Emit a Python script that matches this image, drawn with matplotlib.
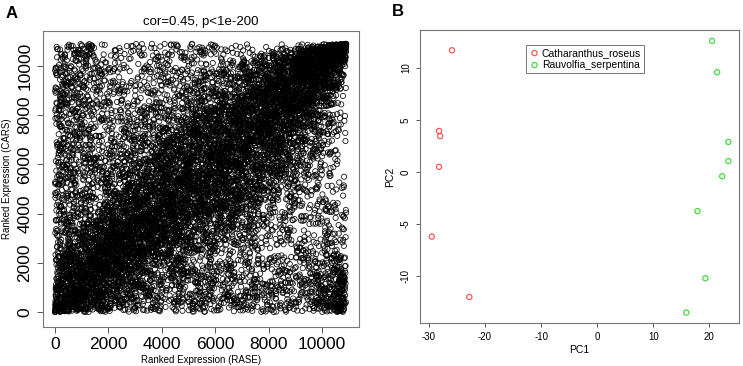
import numpy as np
import matplotlib.pyplot as plt

plt.rcParams['font.family'] = ['Liberation Sans', 'DejaVu Sans']
plt.rcParams['axes.unicode_minus'] = False

# Panel A: ranked expression of ~10900 genes in two samples (cor = 0.45).
# Individual points cannot be read off the picture, so the cloud is
# rebuilt from its summary (gene count, correlation) with a fixed seed.
n_genes = 10900
rank_cor = 0.45
title_a = "cor=0.45, p<1e-200"

# Panel B: PCA scores
cr_pc1 = [-25.9, -28.2, -28.0, -28.2, -29.5, -22.8]
cr_pc2 = [11.7, 3.95, 3.45, 0.5, -6.2, -12.0]
rs_pc1 = [20.5, 21.4, 23.4, 23.4, 22.3, 17.9, 19.3, 15.9]
rs_pc2 = [12.6, 9.6, 2.9, 1.05, -0.4, -3.75, -10.2, -13.5]
species = ["Catharanthus_roseus", "Rauvolfia_serpentina"]


def ranked_pairs(n, cor):
    rng = np.random.default_rng(7)
    k = int(n * 0.58)
    z = rng.multivariate_normal([0, 0], [[1, 0.84], [0.84, 1]], size=k)
    m = n - k
    u = rng.normal(size=(m, 2))
    # extra mass at the low end of either sample
    lo = rng.random(m) < 0.3
    u[lo, 0] = np.minimum(u[lo, 0], rng.normal(-1.8, 0.5, lo.sum()))
    lo2 = rng.random(m) < 0.3
    u[lo2, 1] = np.minimum(u[lo2, 1], rng.normal(-1.8, 0.5, lo2.sum()))
    # small group high in RASE, low in CARS
    br = rng.random(m) < 0.04
    u[br, 0] = rng.normal(1.9, 0.4, br.sum())
    u[br, 1] = rng.normal(-1.9, 0.5, br.sum())
    d = np.vstack([z, u])
    rx = d[:, 0].argsort().argsort()
    ry = d[:, 1].argsort().argsort()
    return rx, ry


rx, ry = ranked_pairs(n_genes, rank_cor)

fig = plt.figure(figsize=(7.43, 3.66), dpi=100)

# ---- panel A
ax1 = fig.add_axes([43 / 743, 39 / 366, 316 / 743, 296 / 366])
ax1.scatter(rx, ry, s=14, facecolors='none', edgecolors='black',
            linewidths=0.6, alpha=0.9)
ax1.set_xlim(-450, 11380)
ax1.set_ylim(-610, 11420)
ax1.set_xticks(range(0, 10001, 2000))
ax1.set_yticks(range(0, 10001, 2000))
ax1.tick_params(labelsize=12.5, length=4, width=0.7, color='#555555')
for lab in ax1.get_yticklabels():
    lab.set_rotation(90)
    lab.set_va('center')
ax1.set_xlabel("Ranked Expression (RASE)", fontsize=7, labelpad=2)
ax1.set_ylabel("Ranked Expression (CARS)", fontsize=7, labelpad=4)
ax1.set_title(title_a, fontsize=9.5, pad=4)
for sp in ax1.spines.values():
    sp.set_color('#777777')
    sp.set_linewidth(0.8)

# ---- panel B
ax2 = fig.add_axes([420 / 743, 43 / 366, 319 / 743, 293 / 366])
ax2.scatter(cr_pc1, cr_pc2, s=14, facecolors='none', edgecolors='#ff5555',
            linewidths=0.9, label=species[0])
ax2.scatter(rs_pc1, rs_pc2, s=14, facecolors='none', edgecolors='#44dd44',
            linewidths=0.9, label=species[1])
ax2.set_xlim(-31.6, 25.3)
ax2.set_ylim(-14.5, 13.65)
ax2.set_xticks(range(-30, 21, 10))
ax2.set_yticks(range(-10, 11, 5))
ax2.tick_params(labelsize=7, length=3, width=0.7, color='#555555')
for lab in ax2.get_yticklabels():
    lab.set_rotation(90)
    lab.set_va('center')
ax2.set_xlabel("PC1", fontsize=7.5, labelpad=2)
ax2.set_ylabel("PC2", fontsize=7.5, labelpad=4)
for sp in ax2.spines.values():
    sp.set_color('#777777')
    sp.set_linewidth(0.8)
leg = ax2.legend(loc='upper left', bbox_to_anchor=(0.333, 0.95), fontsize=7.5,
                 frameon=True, fancybox=False, handletextpad=0.2,
                 handlelength=1.0, borderpad=0.3, labelspacing=0.2,
                 borderaxespad=0)
leg.get_frame().set_edgecolor('#555555')
leg.get_frame().set_linewidth(0.7)

fig.text(6 / 743, 352 / 366, "A", fontsize=12, fontweight='bold', va='center')
fig.text(392 / 743, 355 / 366, "B", fontsize=12, fontweight='bold', va='center')

fig.savefig("out.png", dpi=100)
